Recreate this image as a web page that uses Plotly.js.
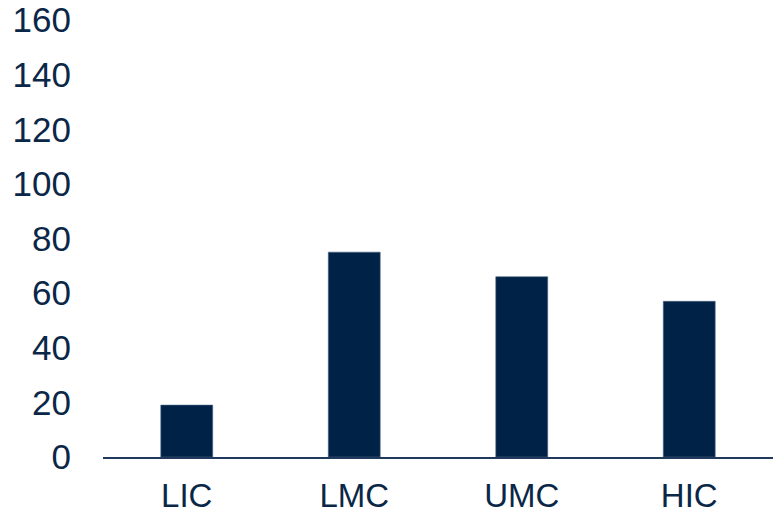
<!DOCTYPE html>
<html><head><meta charset="utf-8">
<script src="https://cdn.plot.ly/plotly-3.0.1.min.js"></script>
<style>html,body{margin:0;padding:0;background:#fff}#c{width:774px;height:518px}</style>
</head><body><div id="c"></div>
<script>
const categories = ["LIC", "LMC", "UMC", "HIC"];
const values = [19, 75, 66, 57];
const yTicks = [0, 20, 40, 60, 80, 100, 120, 140, 160];

const navy = "#002247";
Plotly.newPlot("c", [{
  type: "bar", x: categories, y: values,
  marker: {color: navy, line: {color: "#4a6383", width: 0.6}},
  hoverinfo: "skip"
}], {
  width: 774, height: 518,
  margin: {l: 103, r: 1, t: 20, b: 61},
  paper_bgcolor: "#fff", plot_bgcolor: "#fff",
  bargap: 0.69,
  showlegend: false,
  font: {family: "Liberation Sans, Arial, sans-serif", size: 35, color: "#0b2748"},
  xaxis: {
    showgrid: false, zeroline: false,
    showline: true, linecolor: "#1f3a5c", linewidth: 1.5,
    ticks: "", ticklabelstandoff: 9,
    ticklabeloverflow: "allow",
    tickfont: {size: 33, color: "#0b2748"}
  },
  yaxis: {
    range: [0, 160], tickvals: yTicks, ticktext: yTicks.map(String),
    showgrid: false, zeroline: false, showline: false,
    ticks: "", ticklabelstandoff: 31,
    ticklabeloverflow: "allow",
    tickfont: {size: 35, color: "#0b2748"}
  }
}, {staticPlot: true});
</script></body></html>
